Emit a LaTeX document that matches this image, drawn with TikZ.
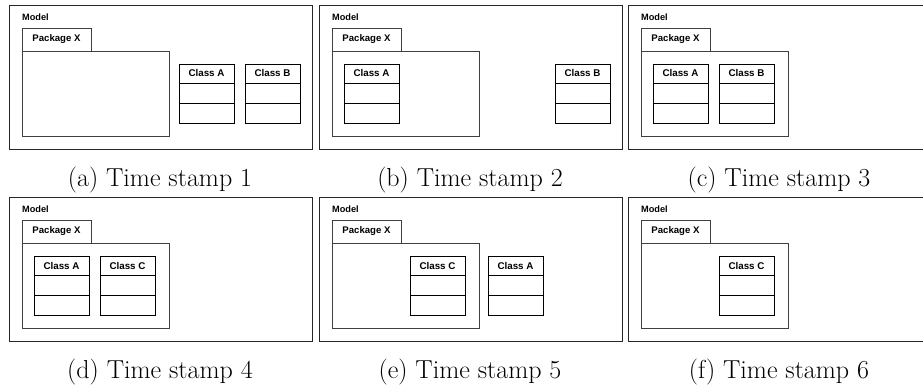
\documentclass[tikz,border=0pt]{standalone}
\usepackage{fontspec}
\newfontfamily\umlfont{Liberation Sans}
\usepackage{tikz}
\usetikzlibrary{positioning}

\tikzset{
  modelbox/.style={draw=black!85, line width=0.9pt, minimum width=303pt, minimum height=144pt, inner sep=0pt, outer sep=0pt},
  modeltext/.style={inner sep=0pt, font=\umlfont\bfseries\fontsize{9.2}{11}\selectfont},
  pkgtab/.style={draw=black!75, line width=0.9pt, minimum width=69pt, minimum height=23pt, inner sep=0pt, outer sep=0pt, font=\umlfont\bfseries\fontsize{9.6}{11}\selectfont},
  pkgbody/.style={draw=black!75, line width=0.9pt, minimum width=147pt, minimum height=85pt, inner sep=0pt, outer sep=0pt},
  classhead/.style={draw=black, line width=0.9pt, minimum width=55pt, minimum height=19pt, inner sep=0pt, outer sep=0pt, font=\umlfont\bfseries\fontsize{9.8}{11}\selectfont},
  classpart/.style={draw=black, line width=0.9pt, minimum width=55pt, minimum height=20pt, inner sep=0pt, outer sep=0pt},
  subcaption/.style={font=\fontsize{26}{30}\selectfont}
}

% frame, package and caption of one time stamp
\newcommand{\umlpanel}[2]{%
  \node[modelbox, anchor=north west] (#1-model) at (0,0) {};
  \node[modeltext, anchor=west] (#1-title) at (13,12) {Model};
  \node[pkgtab, anchor=north west] (#1-tab) at (13,23) {Package X};
  \node[pkgbody, anchor=north west] (#1-pkg) at (#1-tab.south west) {};
  \node[subcaption] (#1-cap) at (151,175) {#2};
}

% class with two empty compartments
\newcommand{\umlclass}[4]{%
  \node[classhead, anchor=north west] (#1) at (#2,#3) {#4};
  \node[classpart, below=0pt of #1] (#1-attr) {};
  \node[classpart, below=0pt of #1-attr] (#1-op) {};
}

\begin{document}
\begin{tikzpicture}[x=1pt,y=-1pt]
\useasboundingbox (0,0) rectangle (923,387);

\begin{scope}[shift={(9,5)}]
\umlpanel{a}{(a) Time stamp 1}
\umlclass{a-A}{170}{59}{Class A}
\umlclass{a-B}{236}{59}{Class B}
\end{scope}

\begin{scope}[shift={(319,5)}]
\umlpanel{b}{(b) Time stamp 2}
\umlclass{b-A}{25}{59}{Class A}
\umlclass{b-B}{236}{59}{Class B}
\end{scope}

\begin{scope}[shift={(628,5)}]
\umlpanel{c}{(c) Time stamp 3}
\umlclass{c-A}{25}{59}{Class A}
\umlclass{c-B}{91}{59}{Class B}
\end{scope}

\begin{scope}[shift={(9,197)}]
\umlpanel{d}{(d) Time stamp 4}
\umlclass{d-A}{25}{59}{Class A}
\umlclass{d-C}{91}{59}{Class C}
\end{scope}

\begin{scope}[shift={(319,197)}]
\umlpanel{e}{(e) Time stamp 5}
\umlclass{e-C}{91}{59}{Class C}
\umlclass{e-A}{169}{59}{Class A}
\end{scope}

\begin{scope}[shift={(628,197)}]
\umlpanel{f}{(f) Time stamp 6}
\umlclass{f-C}{91}{59}{Class C}
\end{scope}

\end{tikzpicture}
\end{document}
